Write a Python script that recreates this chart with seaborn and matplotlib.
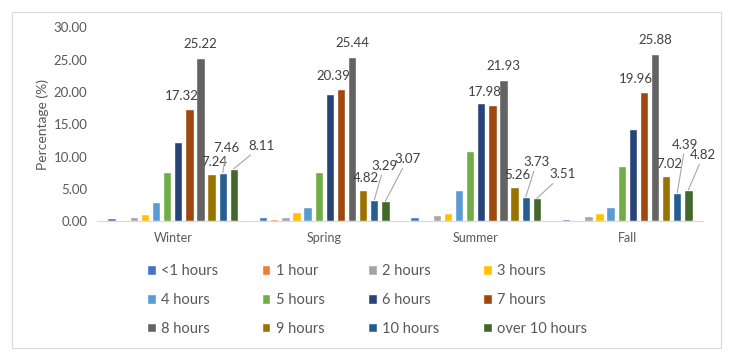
import matplotlib.pyplot as plt
import matplotlib.patches as mpatches
import pandas as pd
import seaborn as sns


SEASONS = ["Winter", "Spring", "Summer", "Fall"]
DURATIONS = [
    "<1 hours", "1 hour", "2 hours", "3 hours", "4 hours", "5 hours",
    "6 hours", "7 hours", "8 hours", "9 hours", "10 hours", "over 10 hours",
]

# percentage of each duration group, per season
WINTER = [0.40, 0.22, 0.57, 1.03, 3.00, 7.55, 12.20, 17.32, 25.22, 7.24, 7.46, 8.11]
SPRING = [0.57, 0.36, 0.57, 1.45, 2.10, 7.55, 19.65, 20.39, 25.44, 4.82, 3.29, 3.07]
SUMMER = [0.57, 0.18, 0.98, 1.30, 4.75, 10.85, 18.35, 17.98, 21.93, 5.26, 3.73, 3.51]
FALL = [0.36, 0.18, 0.78, 1.30, 2.10, 8.53, 14.20, 19.96, 25.88, 7.02, 4.39, 4.82]

COLORS = [
    "#4472C4", "#ED7D31", "#A5A5A5", "#FFC000", "#5B9BD5", "#70AD47",
    "#264478", "#9E480E", "#636363", "#997300", "#255E91", "#43682B",
]

# label placement (offset in pixels from bar top), Excel-style
LABEL_SHIFT = {"7 hours": (-8, 13), "8 hours": (0, 14), "9 hours": (3, 12)}
LEADER_SHIFT = {
    "10 hours": [(4, 25), (10, 34), (11, 35), (8, 48)],
    "over 10 hours": [(28, 23), (22, 42), (26, 24), (15, 35)],
}

TEXT = "#595959"


def main() -> None:
    values = {"Winter": WINTER, "Spring": SPRING, "Summer": SUMMER, "Fall": FALL}
    rows = []
    for season in SEASONS:
        for dur, v in zip(DURATIONS, values[season]):
            rows.append({"season": season, "duration": dur, "pct": v})
    df = pd.DataFrame(rows)

    sns.set_style("white")
    plt.rcParams["font.family"] = ["Lato", "DejaVu Sans"]

    fig = plt.figure(figsize=(7.31, 3.59), dpi=100)
    ax = fig.add_axes([0.1327, 0.3844, 0.829, 0.539])

    sns.barplot(
        data=df, x="season", y="pct", hue="duration",
        order=SEASONS, hue_order=DURATIONS, palette=COLORS,
        width=0.88, gap=0.25, saturation=1, errorbar=None, ax=ax,
    )

    ax.set_ylim(0, 30)
    ax.set_yticks(range(0, 31, 5))
    ax.set_yticklabels([f"{t:.2f}" for t in range(0, 31, 5)])
    ax.set_xlabel("")
    ax.set_ylabel("Percentage (%)", fontsize=10, color=TEXT)
    ax.yaxis.set_label_coords(-0.08, 0.5)
    ax.tick_params(axis="y", length=0, pad=7, labelsize=9.5, labelcolor=TEXT)
    ax.tick_params(axis="x", length=0, pad=8, labelsize=9, labelcolor=TEXT)
    for side in ["top", "right", "left"]:
        ax.spines[side].set_visible(False)
    ax.spines["bottom"].set_color("#D9D9D9")
    ax.set_facecolor("none")

    # data labels
    for dur, container in zip(DURATIONS, ax.containers):
        for k, bar in enumerate(container):
            x = bar.get_x() + bar.get_width() / 2
            h = bar.get_height()
            if dur in LABEL_SHIFT:
                ax.annotate(f"{h:.2f}", (x, h), xytext=LABEL_SHIFT[dur],
                            textcoords="offset pixels", ha="center", va="center",
                            fontsize=9.5, color="#404040")
            elif dur in LEADER_SHIFT:
                ax.annotate(f"{h:.2f}", (x, h), xytext=LEADER_SHIFT[dur][k],
                            textcoords="offset pixels", ha="center", va="center",
                            fontsize=9.5, color="#404040",
                            arrowprops=dict(arrowstyle="-", color="#A6A6A6", lw=0.8,
                                            shrinkA=0, shrinkB=0))

    # legend, filled row by row like Excel
    handles, labels = ax.get_legend_handles_labels()
    ax.get_legend().remove()
    order = [0, 4, 8, 1, 5, 9, 2, 6, 10, 3, 7, 11]
    fig.legend(
        [handles[i] for i in order], [labels[i] for i in order],
        ncol=4, loc="center", bbox_to_anchor=(0.502, 0.164), frameon=False,
        fontsize=10.5, handlelength=0.6, handleheight=0.6, handletextpad=0.35,
        columnspacing=3.0, labelspacing=1.02, labelcolor=TEXT,
    )

    fig.patches.append(mpatches.Rectangle(
        (12 / 731, 1 - 348 / 359), 709 / 731, 336 / 359,
        transform=fig.transFigure, fill=False, edgecolor="#D9D9D9", lw=0.8))

    fig.savefig("out.png", dpi=100)
    plt.close(fig)


if __name__ == "__main__":
    main()
